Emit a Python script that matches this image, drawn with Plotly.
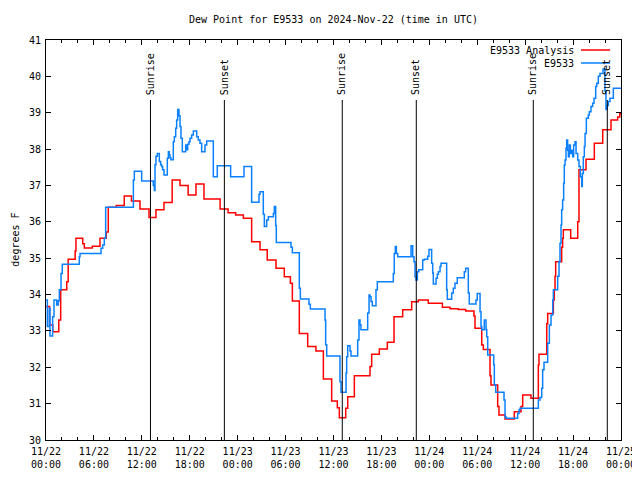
import pandas as pd
import plotly.graph_objects as go

# ---------------- data (hours since 2024-11-22 00:00 UTC, degrees F) ----------------
analysis_hours = [0.0, 0.45, 0.85, 1.6, 1.84, 2.6, 2.78, 3.65, 3.75, 4.6, 4.8, 5.8, 6.76, 7.55, 7.8,
                  8.8, 9.8, 10.7, 11.77, 12.9, 13.77, 14.77, 15.8, 16.78, 17.8, 18.78, 19.78, 21.8,
                  22.8, 23.75, 24.71, 25.75, 26.8, 27.7, 28.8, 29.84, 30.6, 30.85, 31.72, 32.77,
                  33.8, 34.73, 35.77, 36.48, 36.73, 37.53, 37.78, 38.61, 40.57, 40.78, 41.74, 42.74,
                  43.58, 44.66, 45.79, 46.62, 47.87, 49.63, 50.59, 51.63, 52.55, 53.59, 53.72, 54.56,
                  54.76, 55.6, 55.72, 56.56, 56.72, 57.48, 58.64, 59.48, 59.69, 60.73, 61.65, 61.73,
                  62.7, 62.82, 63.53, 63.65, 63.74, 63.82, 64.57, 64.69, 64.78, 65.7, 66.58, 66.74,
                  67.62, 68.66, 69.71, 70.75, 71.58, 71.85, 72.0]
analysis_values = [33.67, 33.16, 32.98, 33.3, 34.13, 34.35, 34.97, 35.2, 35.55, 35.4, 35.28, 35.33, 35.55, 35.72, 36.4,
                   36.45, 36.71, 36.57, 36.35, 36.12, 36.33, 36.53, 37.15, 37.0, 36.74, 37.04, 36.63, 36.35,
                   36.25, 36.19, 36.1, 35.45, 35.23, 34.95, 34.72, 34.49, 34.31, 33.82, 32.93, 32.57,
                   32.45, 31.68, 31.07, 30.89, 30.61, 30.87, 31.19, 31.77, 32.02, 32.36, 32.5, 32.69,
                   33.39, 33.58, 33.8, 33.85, 33.76, 33.65, 33.61, 33.59, 33.55, 33.41, 33.07, 32.61,
                   32.49, 31.77, 31.51, 30.92, 30.69, 30.58, 30.78, 30.92, 31.24, 31.15, 32.06, 32.36,
                   33.2, 33.48, 33.85, 34.13, 34.5, 34.9, 35.3, 35.55, 35.78, 35.55, 36.0, 37.43,
                   37.72, 38.16, 38.53, 38.8, 38.88, 38.97, 38.97]

obs_hours = [0.0, 0.17, 0.42, 0.5, 0.83, 1.0, 1.34, 1.54, 1.67, 1.88, 2.04, 4.17, 4.26, 6.89, 7.1, 7.3, 7.47,
             10.94, 11.06, 11.98, 13.44, 13.57, 13.65, 13.77, 13.94, 14.19, 14.36, 14.48, 14.6, 14.78,
             15.19, 15.32, 15.44, 15.53, 15.65, 15.94, 16.07, 16.24, 16.36, 16.49, 16.65, 16.78, 16.9,
             17.07, 17.49, 17.62, 17.74, 17.9, 18.03, 18.24, 18.45, 18.87, 19.07, 19.28, 19.49, 19.91,
             20.12, 20.95, 21.45, 23.12, 24.79, 25.75, 26.67, 26.8, 27.21, 27.34, 27.63, 27.84, 28.47,
             28.59, 28.76, 28.84, 30.68, 30.85, 31.72, 31.85, 32.93, 33.1, 34.94, 35.02, 35.15, 36.81,
             36.94, 37.57, 37.65, 37.78, 38.07, 38.19, 39.03, 39.19, 39.32, 39.44, 40.28, 40.45, 40.57,
             40.7, 40.86, 41.32, 41.49, 43.49, 43.61, 43.74, 43.87, 44.04, 45.71, 45.92, 46.08, 46.21,
             46.33, 46.5, 46.67, 47.17, 47.37, 47.79, 47.96, 48.29, 48.42, 48.5, 48.84, 49.0, 49.13,
             49.34, 49.46, 50.17, 50.25, 50.8, 51.0, 51.21, 51.5, 52.38, 52.55, 52.88, 53.0, 53.84,
             54.0, 54.35, 54.47, 54.56, 54.88, 55.1, 55.19, 55.31, 56.06, 56.14, 56.31, 57.35, 57.48,
             57.6, 59.06, 59.23, 59.35, 61.65, 61.86, 62.07, 62.19, 62.36, 62.82, 63.03, 63.24, 63.45,
             63.53, 64.07, 64.24, 64.36, 64.49, 64.57, 64.69, 64.82, 64.9, 64.99, 65.11, 65.2, 65.32,
             65.41, 65.53, 65.66, 65.82, 65.95, 66.07, 66.24, 66.37, 66.58, 66.74, 66.91, 67.08, 67.16,
             67.28, 67.41, 67.5, 67.66, 67.91, 68.03, 68.24, 68.45, 68.62, 68.83, 68.96, 69.16, 69.37,
             69.75, 69.99, 70.12, 70.24, 70.41, 70.62, 71.04, 72.0]
obs_values = [33.85, 33.12, 33.62, 32.86, 33.39, 33.85, 33.71, 33.83, 34.13, 34.58, 34.83, 35.04, 35.13, 35.27, 35.36, 35.55, 36.4,
              37.15, 37.39, 37.12, 37.0, 36.86, 37.57, 37.8, 37.88, 37.66, 37.57, 37.52, 37.43, 37.29,
              37.75, 37.93, 37.84, 37.76, 37.71, 38.2, 38.34, 38.57, 38.8, 39.09, 38.92, 38.62, 38.3,
              37.93, 38.11, 37.98, 38.13, 38.2, 38.3, 38.39, 38.5, 38.34, 38.25, 38.16, 37.93, 38.11,
              38.22, 37.24, 37.54, 37.24, 37.52, 36.54, 36.76, 36.83, 36.21, 35.87, 36.05, 36.14, 36.23,
              36.42, 35.9, 35.43, 35.3, 35.15, 34.17, 33.88, 33.73, 33.6, 33.3, 32.62, 32.31, 31.6,
              31.31, 31.84, 32.29, 32.59, 32.45, 32.31, 32.75, 33.3, 33.17, 33.03, 33.49, 33.99, 33.94,
              33.81, 33.69, 34.13, 34.35, 34.58, 35.13, 35.32, 35.13, 35.04, 35.34, 35.04, 34.9, 34.49,
              34.4, 34.63, 34.68, 34.95, 34.97, 35.05, 35.24, 34.86, 34.59, 34.29, 34.45, 34.56, 34.63,
              34.77, 34.86, 34.13, 33.87, 34.04, 34.17, 34.31, 34.46, 34.63, 34.72, 34.04, 33.74, 33.85,
              34.03, 33.53, 33.12, 33.03, 33.3, 33.03, 32.84, 32.34, 32.07, 31.52, 31.31, 31.1, 30.64,
              30.6, 30.73, 30.83, 30.87, 31.1, 31.17, 31.42, 31.93, 32.14, 32.66, 33.16, 33.44, 33.85,
              34.13, 34.5, 34.91, 35.41, 35.91, 36.33, 36.6, 37.06, 37.56, 37.7, 38.02, 38.25, 37.97,
              37.79, 38.11, 37.88, 37.97, 37.79, 38.11, 38.2, 37.88, 37.7, 37.52, 37.24, 36.97, 37.33,
              37.79, 38.07, 38.43, 38.85, 38.94, 39.03, 39.17, 39.26, 39.4, 39.72, 39.81, 40.0, 40.08,
              40.2, 39.6, 39.09, 39.2, 39.31, 39.4, 39.67, 39.67]

sun_event_times = ["2024-11-22 13:05", "2024-11-22 22:20", "2024-11-23 13:06",
                   "2024-11-23 22:22", "2024-11-24 13:01", "2024-11-24 22:17"]
sun_event_labels = ["Sunrise", "Sunset", "Sunrise", "Sunset", "Sunrise", "Sunset"]

series_names = ["E9533 Analysis", "E9533"]
series_colors = ["#ff0000", "#0a80ff"]

start_time = pd.Timestamp("2024-11-22 00:00")
end_time = pd.Timestamp("2024-11-25 00:00")
major_ticks = pd.date_range(start_time, end_time, freq="6h")
tick_labels = [t.strftime("%m/%d") + "<br>" + t.strftime("%H:%M") for t in major_ticks]
y_ticks = list(range(30, 42))


def to_time(hours):
    return [start_time + pd.Timedelta(hours=h) for h in hours]


FONT = "DejaVu Sans Mono"

fig = go.Figure()
fig.add_trace(go.Scatter(x=to_time(analysis_hours), y=analysis_values, mode="lines",
                         line=dict(color=series_colors[0], width=1.5, shape="hv"),
                         name=series_names[0], showlegend=False))
fig.add_trace(go.Scatter(x=to_time(obs_hours), y=obs_values, mode="lines",
                         line=dict(color=series_colors[1], width=1.5, shape="hv"),
                         name=series_names[1], showlegend=False))

# sunrise / sunset markers
for t, lab in zip(sun_event_times, sun_event_labels):
    fig.add_shape(type="line", xref="x", yref="paper", x0=t, x1=t, y0=0, y1=0.85,
                  line=dict(color="black", width=1))
    fig.add_annotation(x=t, xref="x", y=0.858, yref="paper", text=lab, textangle=-90,
                       showarrow=False, xanchor="center", yanchor="bottom",
                       font=dict(family=FONT, size=10, color="black"))

# gnuplot-style key: right-aligned text followed by a line sample
legend_y = [0.975, 0.9425]
for name, col, ly in zip(series_names, series_colors, legend_y):
    fig.add_annotation(x=0.922, xref="paper", y=ly, yref="paper", text=name,
                       showarrow=False, xanchor="right", yanchor="middle",
                       font=dict(family=FONT, size=10, color="black"))
    fig.add_shape(type="line", xref="paper", yref="paper", x0=0.9304, x1=0.981, y0=ly, y1=ly,
                  line=dict(color=col, width=1.5))

# y-axis title
fig.add_annotation(x=-0.0545, xref="paper", y=0.5, yref="paper", text="degrees F",
                   textangle=-90, showarrow=False, xanchor="center", yanchor="middle",
                   font=dict(family=FONT, size=10, color="black"))

fig.update_layout(
    width=640, height=480,
    margin=dict(l=38, r=27, t=32, b=48, autoexpand=False),
    paper_bgcolor="white", plot_bgcolor="white",
    font=dict(family=FONT, size=10, color="black"),
    title=dict(text="Dew Point for E9533 on 2024-Nov-22 (time in UTC)",
               xref="paper", x=0.5, xanchor="center",
               yref="container", y=1 - 11 / 480, yanchor="middle",
               font=dict(family=FONT, size=10, color="black")),
    showlegend=False,
)
fig.update_xaxes(range=[start_time, end_time], tickmode="array", tickvals=major_ticks,
                 ticktext=tick_labels, ticks="inside", ticklen=5, tickcolor="black",
                 showline=True, linecolor="black", linewidth=1, mirror="ticks",
                 showgrid=False, zeroline=False, automargin=False, ticklabelstandoff=2,
                 minor=dict(dtick=2 * 3600 * 1000, tick0=start_time, ticks="inside",
                            ticklen=3, tickcolor="black", showgrid=False),
                 tickfont=dict(family=FONT, size=10, color="black"))
fig.update_yaxes(range=[30, 41], tickmode="array", tickvals=y_ticks,
                 ticks="inside", ticklen=5, tickcolor="black",
                 showline=True, linecolor="black", linewidth=1, mirror="ticks",
                 showgrid=False, zeroline=False, automargin=False, ticklabelstandoff=2,
                 tickfont=dict(family=FONT, size=10, color="black"))

fig.write_html("out.html")
